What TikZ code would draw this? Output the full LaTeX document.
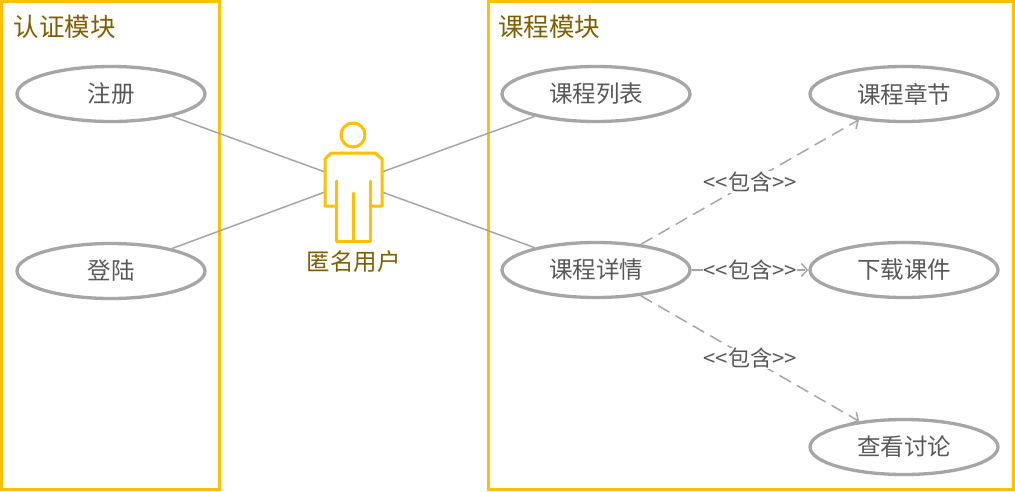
\documentclass[tikz,border=0pt]{standalone}
\usepackage{fontspec}
\setmainfont{Noto Sans CJK SC}
\usetikzlibrary{shapes.geometric,arrows.meta}
\definecolor{gold}{HTML}{FFC000}
\definecolor{darkgold}{HTML}{7F6000}
\definecolor{grayline}{HTML}{A6A6A6}
\definecolor{graytext}{HTML}{595959}
\tikzset{
  x=1pt,y=-1pt,
  usecase/.style={ellipse,draw=grayline,line width=3.3pt,fill=white,minimum width=188pt,minimum height=55pt,inner sep=0pt,text=graytext,font=\fontsize{23.5}{24}\selectfont},
  modulebox/.style={draw=gold,line width=3pt},
  modtitle/.style={anchor=west,inner sep=0pt,text=darkgold,font=\fontsize{25.5}{26}\selectfont},
  assoc/.style={draw=grayline,line width=1.5pt},
  incl/.style={draw=grayline,line width=1.5pt,dash pattern=on 13pt off 7pt,-{Straight Barb[length=6pt,width=13pt,line width=1.5pt]}},
  incllabel/.style={fill=white,inner sep=0.5pt,text=graytext,font=\fontsize{22}{22}\selectfont},
  actorline/.style={draw=gold,line width=3pt,line join=round,line cap=round},
  actorlabel/.style={inner sep=0pt,text=darkgold,font=\fontsize{23.5}{24}\selectfont},
}
\newcommand{\incltext}{{<}{<}包含{>}{>}}
\begin{document}
\begin{tikzpicture}
\useasboundingbox (0,0) rectangle (1015,491);
\fill[white] (0,0) rectangle (1015,491);
\node[modulebox,minimum width=218pt,minimum height=488pt,inner sep=0pt] (authbox) at (110,245) {};
\node[modulebox,minimum width=525pt,minimum height=488pt,inner sep=0pt] (coursebox) at (750.5,245) {};
\node[modtitle] (authtitle) at (13.5,27) {认证模块};
\node[modtitle] (coursetitle) at (498,27) {课程模块};
\coordinate (armRU) at (382,172);
\coordinate (armRL) at (382,192);
\coordinate (armLU) at (325,172);
\coordinate (armLL) at (325,192);
\node[usecase] (reg) at (111,94) {注册};
\node[usecase] (login) at (111,271) {登陆};
\node[usecase] (list) at (596,94) {课程列表};
\node[usecase] (detail) at (596,270) {课程详情};
\node[usecase] (chapter) at (904,94) {课程章节};
\node[usecase] (download) at (904,270) {下载课件};
\node[usecase] (discuss) at (904,447) {查看讨论};
\draw[assoc] (reg) -- (armLU);
\draw[assoc] (login) -- (armLL);
\draw[assoc] (list) -- (armRU);
\draw[assoc] (detail) -- (armRL);
\draw[incl] (detail) -- node[incllabel,pos=0.5] (l1) {\incltext} (chapter);
\draw[incl] (detail) -- node[incllabel,pos=0.5] (l2) {\incltext} (download);
\draw[incl] (detail) -- node[incllabel,pos=0.5] (l3) {\incltext} (discuss);
% actor
\draw[actorline] (353,135) circle[radius=12];
\draw[actorline] (336,181) -- (336,241) -- (370,241) -- (370,181);
\draw[actorline] (336,206) -- (325,206) -- (325,159) -- (331,153) -- (375,153) -- (382,159) -- (382,206) -- (370,206);
\draw[actorline] (353,193) -- (353,241);
\node[actorlabel] (actorname) at (353.5,262) {匿名用户};
\end{tikzpicture}
\end{document}
